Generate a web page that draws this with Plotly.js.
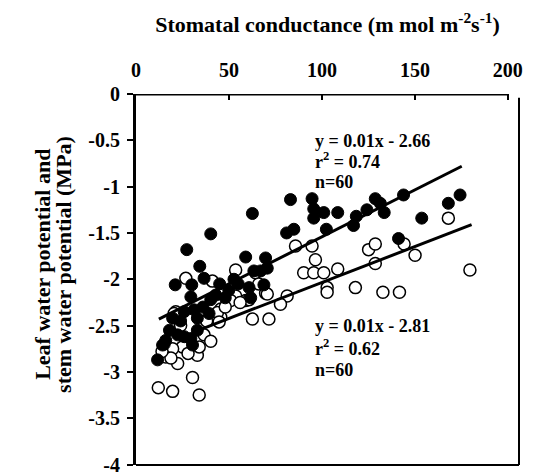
<!DOCTYPE html>
<html>
<head>
<meta charset="utf-8">
<script src="https://cdn.plot.ly/plotly-3.0.1.min.js"></script>
<style>html,body{margin:0;padding:0;background:#fff;}#chart{width:536px;height:475px;}</style>
</head>
<body>
<div id="chart"></div>
<script>
// Leaf water potential (filled) vs stomatal conductance
const leafX = [62.6,83.1,94.7,95.6,101,95.6,108.5,118.5,117,124.2,128.7,131.4,133.5,143.9,84.9,81,102.4,141.2,153.7,168,174.3,59,69.7,70.6,63.4,67,40.2,27.3,34.3,36.6,21.1,30,29.5,52.7,60.8,68.8,40.2,49.9,42.9,19.7,25.9,31.3,33,39.3,33,22.4,16,14.3,29.5,30.4,11.6,15.2,55,61.7,48,24,36,18,45,26];
const leafY = [-1.29,-1.14,-1.13,-1.24,-1.28,-1.34,-1.28,-1.32,-1.42,-1.25,-1.13,-1.18,-1.28,-1.09,-1.46,-1.50,-1.46,-1.56,-1.34,-1.18,-1.09,-1.76,-1.77,-1.88,-1.91,-1.91,-1.51,-1.68,-1.86,-1.99,-2.06,-2.06,-2.19,-2.0,-2.09,-2.06,-2.22,-2.12,-2.17,-2.42,-2.35,-2.33,-2.42,-2.37,-2.55,-2.60,-2.66,-2.71,-2.64,-2.71,-2.87,-2.70,-2.05,-2.2,-2.2,-2.45,-2.3,-2.55,-2.05,-2.62];
// Stem water potential (open) vs stomatal conductance
const stemX = [179.6,150.1,128.7,90.2,95.6,101,108.5,118,102.8,102.8,132.8,141.7,81.3,77.7,96.5,168,144.2,85.8,94.7,125.1,128.7,71.5,62.6,69.7,53.6,53.6,50.9,59,64.3,45.6,45.6,41.1,26.8,60.8,70.6,21.4,35.8,43.8,44.7,36.6,40.2,25,19.7,16,33,12,19.7,30.4,34,22.4,18.8,34,20.5,56,38,28,14,66,48,24];
const stemY = [-1.90,-1.74,-1.83,-1.93,-1.93,-1.93,-1.89,-2.09,-2.09,-2.14,-2.14,-2.14,-2.18,-2.27,-1.79,-1.34,-1.62,-1.64,-1.64,-1.68,-1.62,-2.43,-2.43,-2.15,-1.90,-2.18,-2.23,-2.23,-1.93,-2.32,-2.41,-2.02,-1.99,-2.22,-2.16,-2.35,-2.33,-2.36,-2.46,-2.60,-2.67,-2.73,-2.75,-2.84,-2.82,-3.17,-3.21,-3.06,-3.25,-2.91,-2.85,-2.73,-2.37,-2.25,-2.45,-2.80,-2.78,-2.05,-2.3,-2.5];
// Trend lines as drawn
const leafFitX = [12.3, 175.2];
const leafFitY = [-2.43, -0.78];
const stemFitX = [34.9, 180.5];
const stemFitY = [-2.54, -1.41];
// Ticks
const xTickVals = [0, 50, 100, 150, 200];
const xTickText = ['0', '50', '100', '150', '200'];
const yTickVals = [0, -0.5, -1, -1.5, -2, -2.5, -3, -3.5, -4];
const yTickText = ['0', '-0.5', '-1', '-1.5', '-2', '-2.5', '-3', '-3.5', '-4'];
const leafLabel = ['y = 0.01x - 2.66', 'r<sup>2</sup> = 0.74', 'n=60'];
const stemLabel = ['y = 0.01x - 2.81', 'r<sup>2</sup> = 0.62', 'n=60'];
const yTitleLines = ['Leaf water potential and', 'stem water potential (MPa)'];

const F = {family: '"Liberation Serif", "Times New Roman", serif', color: '#000', weight: 700};

const traces = [
  {x: stemX, y: stemY, type: 'scatter', mode: 'markers', name: 'stem',
   marker: {symbol: 'circle', size: 12, color: '#fff', line: {color: '#000', width: 1.5}}},
  {x: leafX, y: leafY, type: 'scatter', mode: 'markers', name: 'leaf',
   marker: {symbol: 'circle', size: 12, color: '#000', line: {color: '#000', width: 1}}},
  {x: leafFitX, y: leafFitY, type: 'scatter', mode: 'lines', line: {color: '#000', width: 3}},
  {x: stemFitX, y: stemFitY, type: 'scatter', mode: 'lines', line: {color: '#000', width: 3}}
];

const ann = [];
const lineYs1 = [-0.51, -0.72, -0.95];
const lineYs2 = [-2.50, -2.74, -2.98];
leafLabel.forEach((t, i) => ann.push({x: 95, y: lineYs1[i], xref: 'x', yref: 'y', text: t, showarrow: false, xanchor: 'left', yanchor: 'middle', font: Object.assign({}, F, {size: 18})}));
stemLabel.forEach((t, i) => ann.push({x: 95, y: lineYs2[i], xref: 'x', yref: 'y', text: t, showarrow: false, xanchor: 'left', yanchor: 'middle', font: Object.assign({}, F, {size: 18})}));
const yTitleX = [-0.245, -0.19];
yTitleLines.forEach((t, i) => ann.push({xref: 'paper', yref: 'paper', x: yTitleX[i], y: 0.54, xanchor: 'center', yanchor: 'middle', textangle: -90,
  text: t, showarrow: false, font: Object.assign({}, F, {size: 22})}));

const layout = {
  width: 536, height: 475,
  margin: {l: 136, r: 17, t: 94, b: 10},
  paper_bgcolor: '#fff', plot_bgcolor: '#fff',
  showlegend: false,
  font: F,
  xaxis: {
    side: 'top', range: [0, 206], tickvals: xTickVals, ticktext: xTickText,
    ticks: 'inside', ticklen: 6, tickwidth: 2, tickcolor: '#000',
    showline: false, showgrid: false, zeroline: false,
    tickfont: Object.assign({}, F, {size: 20}), ticklabelstandoff: 12,
    title: {text: 'Stomatal conductance (m mol m<sup>-2</sup>s<sup>-1</sup>)', font: Object.assign({}, F, {size: 22}), standoff: 20},
    automargin: false
  },
  yaxis: {
    range: [-4.005, 0], tickvals: yTickVals, ticktext: yTickText,
    ticks: 'outside', ticklen: 6, tickwidth: 2, tickcolor: '#000',
    showline: true, linecolor: '#000', linewidth: 3,
    showgrid: false, zeroline: false,
    tickfont: Object.assign({}, F, {size: 20}), ticklabelstandoff: 3,
    ticklabeloverflow: 'allow',
    automargin: false
  },
  shapes: [
    {type: 'line', xref: 'x', yref: 'y', x0: 0, x1: 200, y0: 0, y1: 0, line: {color: '#000', width: 3}},
    {type: 'line', xref: 'paper', yref: 'paper', x0: 1, x1: 1, y0: 0, y1: 0.99, line: {color: '#000', width: 2}},
    {type: 'line', xref: 'paper', yref: 'paper', x0: 0, x1: 1, y0: 0, y1: 0, line: {color: '#000', width: 2}}
  ],
  annotations: ann
};

Plotly.newPlot('chart', traces, layout, {displayModeBar: false, staticPlot: true});
</script>
</body>
</html>
